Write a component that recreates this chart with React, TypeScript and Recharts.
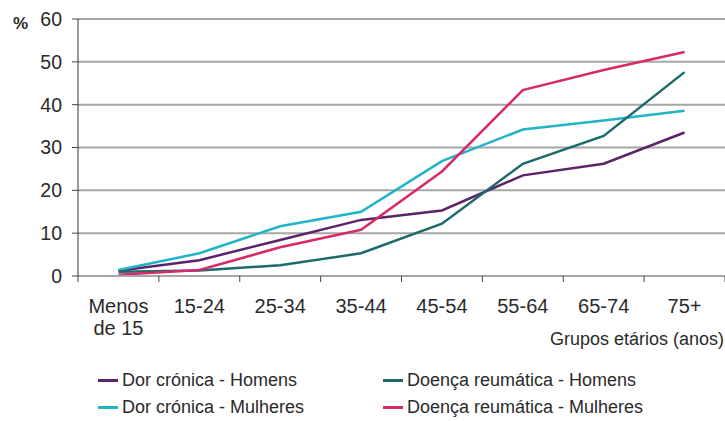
import React from "react";
import { LineChart, Line, XAxis, YAxis, CartesianGrid, Legend, Label } from "recharts";

const categories = ["Menos de 15", "15-24", "25-34", "35-44", "45-54", "55-64", "65-74", "75+"];
const tickLabelLines = [["Menos", "de 15"], ["15-24"], ["25-34"], ["35-44"], ["45-54"], ["55-64"], ["65-74"], ["75+"]];
const yTicks = [0, 10, 20, 30, 40, 50, 60];

const dorHomens = [1.2, 3.7, 8.4, 13.1, 15.3, 23.5, 26.2, 33.5];
const dorMulheres = [1.4, 5.3, 11.6, 15.0, 26.8, 34.2, 36.3, 38.6];
const reumHomens = [1.0, 1.3, 2.5, 5.3, 12.2, 26.2, 32.7, 47.6];
const reumMulheres = [0.3, 1.4, 6.7, 10.8, 24.4, 43.4, 48.1, 52.3];

const series = [
  { key: "dorHomens", name: "Dor crónica - Homens", color: "#5c2468" },
  { key: "dorMulheres", name: "Dor crónica - Mulheres", color: "#21b4c6" },
  { key: "reumHomens", name: "Doença reumática - Homens", color: "#1c6a6b" },
  { key: "reumMulheres", name: "Doença reumática - Mulheres", color: "#d62a6b" },
];
const legendOrder = ["dorHomens", "reumHomens", "dorMulheres", "reumMulheres"];

const data = categories.map((c, i) => ({
  x: i + 0.5,
  cat: c,
  dorHomens: dorHomens[i],
  dorMulheres: dorMulheres[i],
  reumHomens: reumHomens[i],
  reumMulheres: reumMulheres[i],
}));

const boundaryTicks = categories.map((_, i) => i).concat([categories.length]);
const centerTicks = categories.map((_, i) => i + 0.5);

const FONT = "'Liberation Sans', Arial, Helvetica, sans-serif";
const TEXT = "#2a2a2a";
const GRID = "#a6a6a6";

const CategoryTick = (props: any) => {
  const { x, y, payload } = props;
  const idx = Math.floor(payload.value);
  const lines = tickLabelLines[idx] || [];
  return (
    <text x={x} y={y} textAnchor="middle" fill={TEXT} fontSize={20} fontFamily={FONT}>
      {lines.map((l, j) => (
        <tspan key={j} x={x} dy={j === 0 ? 29 : 22}>
          {l}
        </tspan>
      ))}
    </text>
  );
};

const LegendContent = () => {
  const items = legendOrder.map((k) => series.find((s) => s.key === k)!);
  return (
    <div
      style={{
        display: "grid",
        gridTemplateColumns: "285px 320px",
        gridAutoRows: "27px",
        paddingLeft: 98,
        fontFamily: FONT,
        fontSize: 18,
        color: TEXT,
      }}
    >
      {items.map((s) => (
        <div key={s.key} style={{ display: "flex", alignItems: "center", lineHeight: "27px", whiteSpace: "nowrap" }}>
          <span style={{ display: "inline-block", width: 20, height: 3, background: s.color, marginRight: 4 }} />
          <span>{s.name}</span>
        </div>
      ))}
    </div>
  );
};

export default function App() {
  return (
    <div style={{ position: "absolute", left: 0, top: 0, width: 725, height: 421, background: "#fff" }}>
      <LineChart width={725} height={421} data={data} margin={{ top: 19, right: 0, bottom: 0, left: 0 }}>
        <CartesianGrid xAxisId={0} horizontal vertical={false} stroke={GRID} strokeWidth={2} />
        <XAxis
          xAxisId={1}
          type="number"
          dataKey="x"
          domain={[0, categories.length]}
          ticks={centerTicks}
          height={137}
          axisLine={false}
          tickLine={false}
          tickSize={0}
          tickMargin={0}
          interval={0}
          tick={<CategoryTick />}
        >
          <Label
            content={(p: any) => {
              const vb = p.viewBox;
              return (
                <text
                  x={vb.x + vb.width - 1}
                  y={vb.y + 61}
                  textAnchor="end"
                  fill={TEXT}
                  fontSize={18}
                  fontFamily={FONT}
                >
                  Grupos etários (anos)
                </text>
              );
            }}
          />
        </XAxis>
        <XAxis
          xAxisId={0}
          type="number"
          dataKey="x"
          domain={[0, categories.length]}
          ticks={boundaryTicks}
          tickFormatter={() => ""}
          interval={0}
          height={8}
          axisLine={{ stroke: GRID, strokeWidth: 2 }}
          tickLine={{ stroke: "#444", strokeWidth: 1 }}
          tickSize={6}
        />
        <YAxis
          type="number"
          domain={[0, 60]}
          ticks={yTicks}
          width={78}
          interval={0}
          axisLine={{ stroke: "#333" }}
          tickLine={{ stroke: "#444" }}
          tickSize={6}
          tickMargin={10}
          tick={{ fill: TEXT, fontSize: 19.5, fontFamily: FONT }}
        >
          <Label
            content={(p: any) => {
              const vb = p.viewBox;
              return (
                <text x={vb.x + 13} y={vb.y + 10} fill={TEXT} fontSize={17} fontWeight="bold" fontFamily={FONT}>
                  %
                </text>
              );
            }}
          />
        </YAxis>
        {series.map((s) => (
          <Line
            key={s.key}
            xAxisId={0}
            dataKey={s.key}
            name={s.name}
            stroke={s.color}
            strokeWidth={2.5}
            dot={false}
            activeDot={false}
            isAnimationActive={false}
          />
        ))}
        <Legend
          layout="horizontal"
          verticalAlign="middle"
          align="center"
          wrapperStyle={{ top: 367, left: 0, width: 725, height: 54 }}
          content={<LegendContent />}
        />
      </LineChart>
    </div>
  );
}
